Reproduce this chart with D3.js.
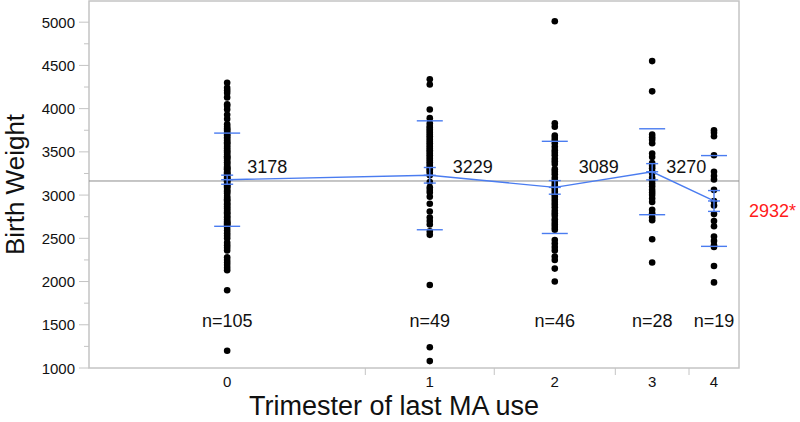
<!DOCTYPE html>
<html>
<head>
<meta charset="utf-8">
<script src="https://d3js.org/d3.v7.min.js"></script>
<style>
  body { margin: 0; background: #fff; }
  text { font-family: "Liberation Sans", Arial, sans-serif; fill: #111; }
</style>
</head>
<body>
<script>
// groups of the oneway plot (trimester of last MA use)
const groups = ["0", "1", "2", "3", "4"];
const counts = [105, 49, 46, 28, 19];
const means = [3178, 3229, 3089, 3270, 2932];
const stdDevs = [539, 630, 533, 497, 525];
const flagged = [false, false, false, false, true];

// birth weights, one list per group
const weights0 = [4300, 4240, 4210, 4180, 4130, 4050, 4030, 3990, 3930, 3880, 3820,
  3790, 3770, 3755, 3740, 3720, 3700, 3690, 3670, 3650, 3630, 3610, 3600, 3580, 3560,
  3540, 3520, 3500, 3490, 3470, 3450, 3440, 3430, 3420, 3400, 3380, 3370, 3350, 3330,
  3320, 3310, 3300, 3290, 3270, 3260, 3250, 3240, 3230, 3210, 3200, 3190, 3180, 3170,
  3160, 3150, 3130, 3120, 3110, 3100, 3090, 3070, 3050, 3040, 3020, 2990, 2970, 2950,
  2940, 2920, 2900, 2890, 2870, 2850, 2840, 2820, 2800, 2790, 2770, 2750, 2740, 2720,
  2700, 2690, 2680, 2670, 2660, 2650, 2620, 2590, 2560, 2530, 2500, 2450, 2420, 2390,
  2360, 2280, 2250, 2220, 2190, 2160, 2130, 1900, 1200];
const weights1 = [4340, 4280, 3990, 3890, 3830, 3800, 3780, 3760, 3740, 3720, 3700,
  3680, 3660, 3640, 3620, 3600, 3580, 3560, 3540, 3520, 3500, 3480, 3460, 3440, 3420,
  3400, 3380, 3360, 3340, 3320, 3300, 3280, 3260, 3230, 3150, 3090, 3060, 3030, 2980,
  2900, 2810, 2740, 2700, 2660, 2580, 2540, 1960, 1240, 1080];
const weights2 = [5010, 3830, 3790, 3690, 3660, 3630, 3600, 3560, 3520, 3490, 3460,
  3420, 3390, 3360, 3300, 3270, 3240, 3200, 3170, 3140, 3110, 3090, 3070, 3040, 3010,
  2980, 2950, 2920, 2890, 2860, 2820, 2790, 2760, 2720, 2690, 2660, 2630, 2600, 2480,
  2440, 2400, 2360, 2290, 2250, 2150, 2000];
const weights3 = [4550, 4200, 3700, 3670, 3640, 3600, 3480, 3440, 3370, 3340, 3310,
  3270, 3250, 3200, 3170, 3130, 3100, 3060, 3030, 3000, 2960, 2920, 2830, 2790, 2740,
  2710, 2490, 2220];
const weights4 = [3750, 3720, 3680, 3460, 3270, 3220, 3180, 3060, 2930, 2880, 2780,
  2700, 2640, 2520, 2470, 2420, 2400, 2180, 1990];
const weights = [weights0, weights1, weights2, weights3, weights4];

const yTicks = [1000, 1500, 2000, 2500, 3000, 3500, 4000, 4500, 5000];

const width = 800, height = 422;
const plotLeft = 89, plotRight = 739, plotTop = 1, plotBottom = 368;
const blue = "#4a7cf0";
const frameGrey = "#c4c4c4";

const svg = d3.select("body").append("svg")
  .attr("width", width).attr("height", height);

// group widths proportional to n
const total = d3.sum(counts);
const starts = Array.from(d3.cumsum([0].concat(counts.slice(0, -1))));
const x = d3.scaleLinear().domain([0, total]).range([plotLeft, plotRight]);
const y = d3.scaleLinear().domain([1000, 5245]).range([plotBottom, plotTop]);
const centre = i => x(starts[i] + counts[i] / 2);

// frame
svg.append("rect")
  .attr("x", plotLeft).attr("y", plotTop)
  .attr("width", plotRight - plotLeft).attr("height", plotBottom - plotTop)
  .attr("fill", "none").attr("stroke", frameGrey).attr("stroke-width", 1.5);

// y axis: major + minor ticks
const yMinor = d3.range(1000, 5250, 250);
svg.append("g").selectAll("line").data(yMinor).join("line")
  .attr("x1", d => d % 500 === 0 ? plotLeft - 10 : plotLeft - 5).attr("x2", plotLeft)
  .attr("y1", d => y(d)).attr("y2", d => y(d))
  .attr("stroke", frameGrey).attr("stroke-width", 1);
svg.append("g").selectAll("text").data(yTicks).join("text")
  .attr("x", plotLeft - 14).attr("y", d => y(d) + 5.5)
  .attr("text-anchor", "end").attr("font-size", 15)
  .text(d => d);

// x axis: boundaries between groups, labels at centres
svg.append("g").selectAll("line").data(starts.slice(1)).join("line")
  .attr("x1", d => x(d)).attr("x2", d => x(d))
  .attr("y1", plotBottom).attr("y2", plotBottom + 7)
  .attr("stroke", frameGrey).attr("stroke-width", 1);
svg.append("g").selectAll("text").data(groups).join("text")
  .attr("x", (d, i) => centre(i)).attr("y", 387)
  .attr("text-anchor", "middle").attr("font-size", 15)
  .text(d => d);

// axis titles
svg.append("text")
  .attr("x", 394).attr("y", 415)
  .attr("text-anchor", "middle").attr("font-size", 27)
  .text("Trimester of last MA use");
svg.append("text")
  .attr("transform", "translate(24," + (plotTop + plotBottom) / 2 + ") rotate(-90)")
  .attr("text-anchor", "middle").attr("font-size", 26)
  .text("Birth Weight");

// grand mean line
const grandMean = d3.sum(means.map((m, i) => m * counts[i])) / total;
svg.append("line")
  .attr("x1", plotLeft).attr("x2", plotRight)
  .attr("y1", y(grandMean)).attr("y2", y(grandMean))
  .attr("stroke", "#8c8c8c").attr("stroke-width", 1);

// points
weights.forEach((ws, i) => {
  svg.append("g").selectAll("circle").data(ws).join("circle")
    .attr("cx", centre(i)).attr("cy", d => y(d))
    .attr("r", 3.3).attr("fill", "#000");
});

// std dev lines, std error bars, means
const g = svg.append("g").attr("stroke", blue).attr("stroke-width", 1.4).attr("fill", "none");
means.forEach((m, i) => {
  const cx = centre(i), sd = stdDevs[i], se = sd / Math.sqrt(counts[i]);
  [m - sd, m + sd].forEach(v => g.append("line")
    .attr("x1", cx - 13).attr("x2", cx + 13).attr("y1", y(v)).attr("y2", y(v)));
  [m - se, m, m + se].forEach(v => g.append("line")
    .attr("x1", cx - 6).attr("x2", cx + 6).attr("y1", y(v)).attr("y2", y(v)));
  g.append("line").attr("x1", cx).attr("x2", cx).attr("y1", y(m - se)).attr("y2", y(m + se));
});
g.append("path")
  .attr("d", d3.line().x((d, i) => centre(i)).y(d => y(d))(means));

// mean labels
const labelDx = [20, 23, 24, 14];
svg.append("g").selectAll("text").data(means).join("text")
  .attr("x", (d, i) => flagged[i] ? plotRight + 10 : centre(i) + labelDx[i])
  .attr("y", (d, i) => flagged[i] ? y(d) + 16 : y(d3.max(means)) + 1)
  .attr("font-size", 18)
  .style("fill", (d, i) => flagged[i] ? "#ff1a1a" : "#111")
  .text((d, i) => d + (flagged[i] ? "*" : ""));

// counts
svg.append("g").selectAll("text").data(counts).join("text")
  .attr("x", (d, i) => centre(i)).attr("y", 327)
  .attr("text-anchor", "middle").attr("font-size", 18)
  .text(d => "n=" + d);
</script>
</body>
</html>
